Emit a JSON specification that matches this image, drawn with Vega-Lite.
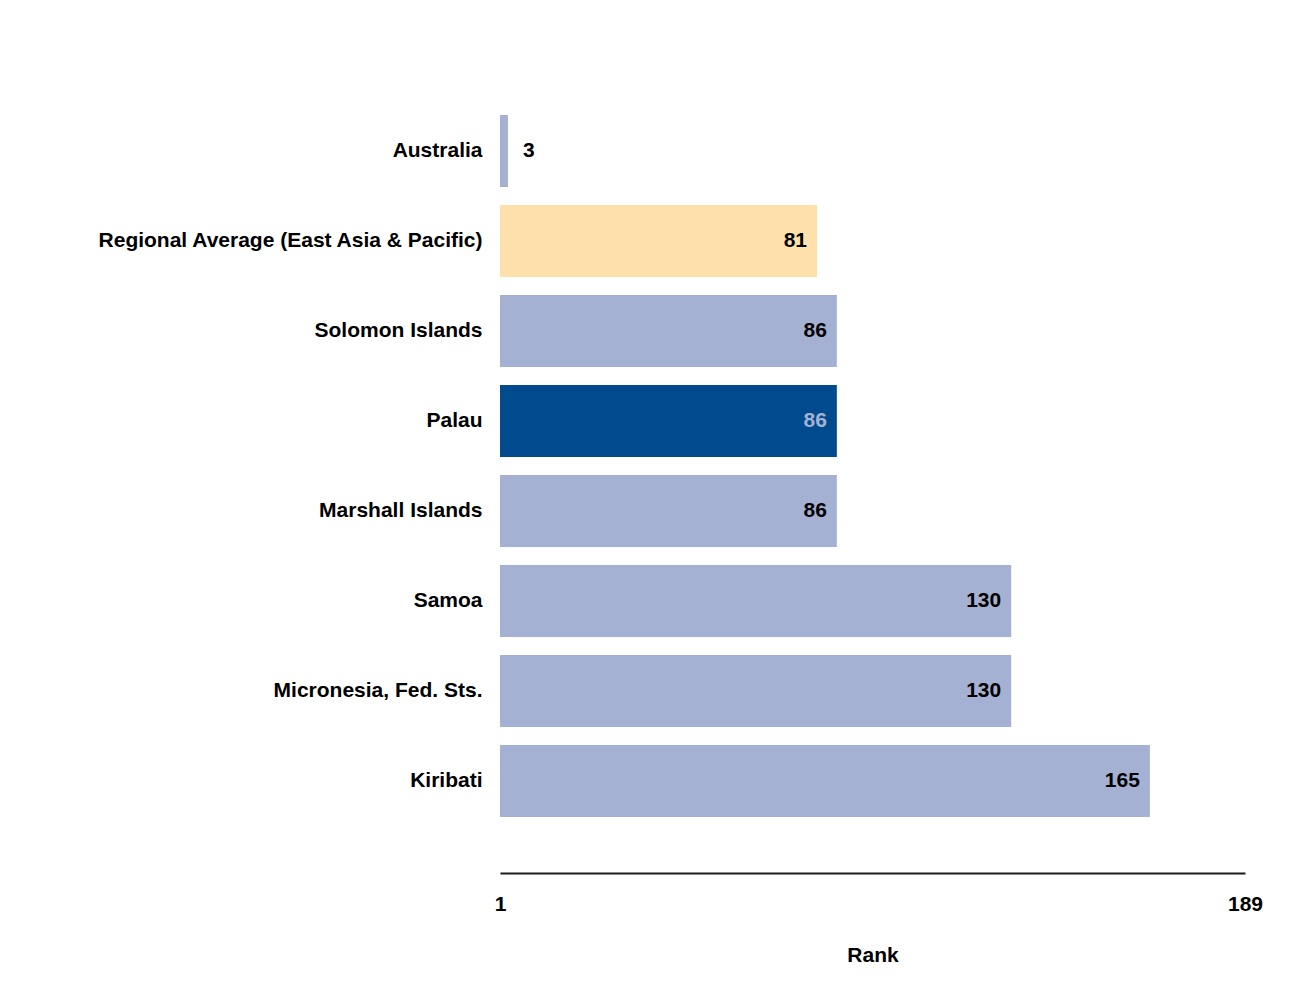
{
  "$schema": "https://vega.github.io/schema/vega-lite/v6.json",
  "autosize": {"type": "none"},
  "padding": {"left": 500, "top": 106, "right": 56, "bottom": 179},
  "width": 745,
  "height": 720,
  "background": "white",
  "config": {
    "view": {"stroke": null},
    "font": "Liberation Sans"
  },
  "data": {
    "values": [
      {"country": "Australia", "rank": 3, "group": "other"},
      {"country": "Regional Average (East Asia & Pacific)", "rank": 81, "group": "regional"},
      {"country": "Solomon Islands", "rank": 86, "group": "other"},
      {"country": "Palau", "rank": 86, "group": "focus"},
      {"country": "Marshall Islands", "rank": 86, "group": "other"},
      {"country": "Samoa", "rank": 130, "group": "other"},
      {"country": "Micronesia, Fed. Sts.", "rank": 130, "group": "other"},
      {"country": "Kiribati", "rank": 165, "group": "other"}
    ]
  },
  "encoding": {
    "y": {
      "field": "country",
      "type": "nominal",
      "sort": null,
      "scale": {"paddingInner": 0.2, "paddingOuter": 0.1},
      "axis": {
        "title": null,
        "domain": false,
        "ticks": false,
        "labelPadding": 18,
        "labelLimit": 0,
        "labelFontSize": 21,
        "labelFontWeight": "bold",
        "labelColor": "#000000",
        "labelFont": "Liberation Sans"
      }
    }
  },
  "layer": [
    {
      "mark": {"type": "bar"},
      "encoding": {
        "x": {
          "field": "rank",
          "type": "quantitative",
          "scale": {"domain": [1, 189], "nice": false, "zero": false},
          "axis": {
            "title": "Rank",
            "values": [1, 189],
            "labelFlush": false,
            "ticks": false,
            "grid": false,
            "offset": 47,
            "domainColor": "#1a1a1a",
            "domainWidth": 2,
            "labelPadding": 20,
            "labelFontSize": 21,
            "labelFontWeight": "bold",
            "labelColor": "#000000",
            "titleFontSize": 21,
            "titleFontWeight": "bold",
            "titleColor": "#000000",
            "titlePadding": 30
          }
        },
        "x2": {"datum": 1},
        "color": {
          "field": "group",
          "type": "nominal",
          "scale": {"domain": ["other", "regional", "focus"], "range": ["#a5b1d3", "#fee0aa", "#004a8d"]},
          "legend": null
        }
      }
    },
    {
      "transform": [{"filter": "datum.rank > 10"}],
      "mark": {"type": "text", "align": "right", "baseline": "middle", "dx": -10, "fontSize": 21, "fontWeight": "bold"},
      "encoding": {
        "x": {"field": "rank", "type": "quantitative"},
        "text": {"field": "rank", "type": "quantitative"},
        "color": {
          "condition": {"test": "datum.group === 'focus'", "value": "#a5b1d3"},
          "value": "#000000"
        }
      }
    },
    {
      "transform": [{"filter": "datum.rank <= 10"}],
      "mark": {"type": "text", "align": "left", "baseline": "middle", "dx": 15, "fontSize": 21, "fontWeight": "bold", "color": "#000000"},
      "encoding": {
        "x": {"field": "rank", "type": "quantitative"},
        "text": {"field": "rank", "type": "quantitative"}
      }
    }
  ]
}
